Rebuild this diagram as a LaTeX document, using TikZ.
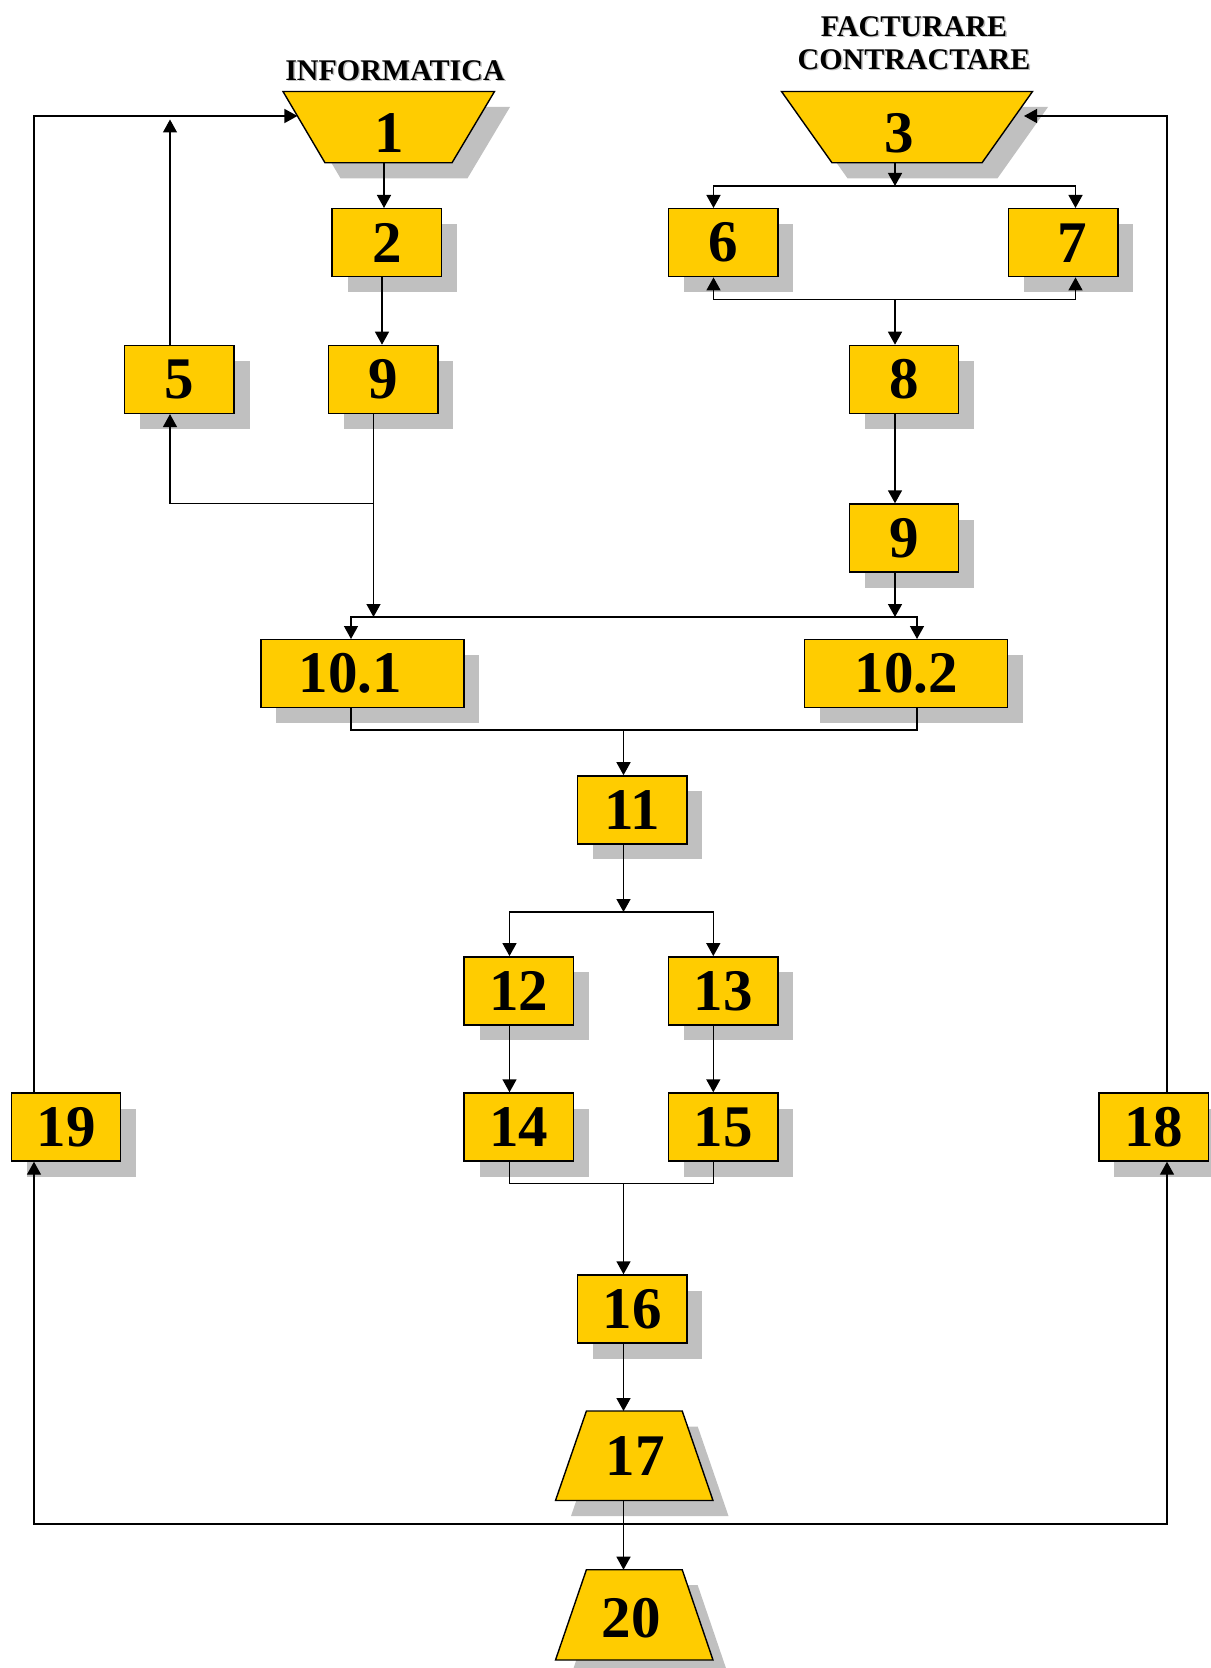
\documentclass[tikz,border=0pt]{standalone}
\usepackage{fontspec}
\setmainfont{Liberation Serif}
\usetikzlibrary{arrows.meta,shadows,calc}
\definecolor{gold}{HTML}{FFCC00}
\definecolor{shgray}{HTML}{C0C0C0}
\begin{document}
\begin{tikzpicture}[x=0.5pt,y=-0.5pt,
  box/.style={draw=black, line width=0.7pt, fill=gold, minimum width=54.75pt, minimum height=34pt,
    inner sep=0pt, font=\bfseries\fontsize{29.5}{30}\selectfont,
    drop shadow={opacity=1, fill=shgray, shadow xshift=7.75pt, shadow yshift=-7.75pt}},
  wide/.style={box, minimum width=101.5pt},
  trap/.style={draw=black, line width=0.7pt, fill=gold},
  trapsh/.style={fill=shgray},
  digit/.style={inner sep=0pt, font=\bfseries\fontsize{29.5}{30}\selectfont},
  lbl/.style={inner sep=0pt, align=center, font=\bfseries\fontsize{15}{16.5}\selectfont},
  lblsh/.style={lbl, text=shgray},
  ln/.style={draw, line width=0.7pt},
  arr/.style={ln, -{Triangle[length=6.5pt,width=7pt]}}]
\useasboundingbox (0,0) rectangle (1210,1668);
% trapezoid corners
\coordinate (n1tl) at (283,91.5);   \coordinate (n1tr) at (494.5,91.5);
\coordinate (n1br) at (452,162.8);  \coordinate (n1bl) at (325,162.8);
\coordinate (n3tl) at (781.5,91.5); \coordinate (n3tr) at (1032.5,91.5);
\coordinate (n3br) at (982,162.8);  \coordinate (n3bl) at (832,162.8);
\coordinate (n17tl) at (586.4,1411); \coordinate (n17tr) at (682.2,1411);
\coordinate (n17br) at (713,1500.5); \coordinate (n17bl) at (555.5,1500.5);
\coordinate (n20tl) at (586.4,1569.7); \coordinate (n20tr) at (682.2,1569.7);
\coordinate (n20br) at (713,1660);     \coordinate (n20bl) at (555.5,1660);
% trapezoid shadows
\fill[trapsh] ([shift={(15.5,15.5)}]n1tl) -- ([shift={(15.5,15.5)}]n1tr) -- ([shift={(15.5,15.5)}]n1br) -- ([shift={(15.5,15.5)}]n1bl) -- cycle;
\fill[trapsh] ([shift={(15.5,15.5)}]n3tl) -- ([shift={(15.5,15.5)}]n3tr) -- ([shift={(15.5,15.5)}]n3br) -- ([shift={(15.5,15.5)}]n3bl) -- cycle;
\fill[trapsh] ([shift={(15.5,15.5)}]n17tl) -- ([shift={(15.5,15.5)}]n17tr) -- ([shift={(15.5,15.5)}]n17br) -- ([shift={(15.5,15.5)}]n17bl) -- cycle;
\fill[trapsh] ([shift={(15.5,15.5)}]n20tl) -- ([shift={(15.5,15.5)}]n20tr) -- ([shift={(15.5,15.5)}]n20br) -- ([shift={(15.5,15.5)}]n20bl) -- cycle;
% trapezoids
\path[trap] (n1tl) -- (n1tr) -- (n1br) -- (n1bl) -- cycle;
\path[trap] (n3tl) -- (n3tr) -- (n3br) -- (n3bl) -- cycle;
\path[trap] (n17tl) -- (n17tr) -- (n17br) -- (n17bl) -- cycle;
\path[trap] (n20tl) -- (n20tr) -- (n20br) -- (n20bl) -- cycle;
\node[digit] (n1) at (388.75,133) {1};
\node[digit] (n3) at (899,133) {3};
\node[digit] (n17) at (635,1456) {17};
\node[digit] (n20) at (631,1618) {20};
% labels
\node[lblsh] (sinf) at (396.5,72) {INFORMATICA};
\node[lbl] (linf) at (395,70.5) {INFORMATICA};
\node[lblsh] (sfac) at (915.5,44.5) {FACTURARE\\CONTRACTARE};
\node[lbl] (lfac) at (914,43) {FACTURARE\\CONTRACTARE};
% boxes
\node[box] (n2) at (386.8,242.7) {2};
\node[box] (n6) at (723.2,242.7) {6};
\node[box] (n7) at (1063.2,242.7) {\hspace*{9pt}7};
\node[box] (n5) at (179.3,379.4) {5};
\node[box] (n9a) at (383.1,379.4) {9};
\node[box] (n8) at (904,379.4) {8};
\node[box] (n9b) at (904,538) {9};
\node[wide] (n101) at (362.4,673.7) {\hspace*{-12pt}10.1};
\node[wide] (n102) at (906.2,673.7) {10.2};
\node[box] (n11) at (632.2,809.9) {11};
\node[box] (n12) at (518.8,990.8) {12};
\node[box] (n13) at (723.2,990.8) {13};
\node[box] (n14) at (518.8,1127) {14};
\node[box] (n15) at (723.2,1127) {15};
\node[box] (n19) at (66,1127) {19};
\node[box] (n18) at (1153.6,1127) {18};
\node[box] (n16) at (632.2,1309) {16};
% routing coordinates
\coordinate (xL) at (34,0);   \coordinate (xR) at (1167,0);
\coordinate (x1) at (384,0);  \coordinate (x2) at (382,0);
\coordinate (x3) at (373.5,0); \coordinate (x5) at (170,0);
\coordinate (xc) at (623.5,0); \coordinate (x3r) at (895,0);
\coordinate (x6) at (713.5,0); \coordinate (x7) at (1075.5,0);
\coordinate (x101) at (351,0); \coordinate (x102) at (917,0);
\coordinate (x12) at (509.5,0); \coordinate (x13) at (713.3,0);
\coordinate (y5tip) at (0,119.5); \coordinate (ybr) at (0,503.3);
\coordinate (ybus) at (0,617); \coordinate (yj10) at (0,730);
\coordinate (ysp) at (0,912); \coordinate (yj14) at (0,1183.3);
\coordinate (yb) at (0,1524); \coordinate (ys3) at (0,186);
\coordinate (yj6) at (0,299.3);
\coordinate (e1) at ($(n1tl)!0.3436!(n1bl)$);
\coordinate (e3) at (1024,116);
% connectors
\draw[arr] (n1bl -| x1) -- (n2.north -| x1);
\draw[arr] (n2.south -| x2) -- (n9a.north -| x2);
\draw[arr] (n9a.south -| x3) -- (x3 |- ybus);
\draw[arr] (x3 |- ybr) -| (n5.south -| x5);
\draw[arr] (n5.north -| x5) -- (x5 |- y5tip);
\draw[arr] (n19.north -| xL) |- (e1);
\draw[arr] (n3bl -| x3r) -- (x3r |- ys3);
\draw[arr] (x3r |- ys3) -| (n6.north -| x6);
\draw[arr] (x3r |- ys3) -| (n7.north -| x7);
\draw[arr] (x3r |- yj6) -| (n6.south -| x6);
\draw[arr] (x3r |- yj6) -| (n7.south -| x7);
\draw[arr] (x3r |- yj6) -- (n8.north -| x3r);
\draw[arr] (n8.south -| x3r) -- (n9b.north -| x3r);
\draw[arr] (n9b.south -| x3r) -- (x3r |- ybus);
\draw[arr] (x3 |- ybus) -| (n101.north -| x101);
\draw[arr] (x3 |- ybus) -| (n102.north -| x102);
\draw[ln] (n101.south -| x101) |- (x102 |- yj10) -- (n102.south -| x102);
\draw[arr] (xc |- yj10) -- (n11.north -| xc);
\draw[arr] (n11.south -| xc) -- (xc |- ysp);
\draw[arr] (xc |- ysp) -| (n12.north -| x12);
\draw[arr] (xc |- ysp) -| (n13.north -| x13);
\draw[arr] (n12.south -| x12) -- (n14.north -| x12);
\draw[arr] (n13.south -| x13) -- (n15.north -| x13);
\draw[ln] (n14.south -| x12) |- (x13 |- yj14) -- (n15.south -| x13);
\draw[arr] (xc |- yj14) -- (n16.north -| xc);
\draw[arr] (n16.south -| xc) -- (n17tl -| xc);
\draw[arr] (n17bl -| xc) -- (n20tl -| xc);
\draw[arr] (xc |- yb) -| (n19.south -| xL);
\draw[arr] (xc |- yb) -| (n18.south -| xR);
\draw[arr] (n18.north -| xR) |- (e3);
\end{tikzpicture}
\end{document}
